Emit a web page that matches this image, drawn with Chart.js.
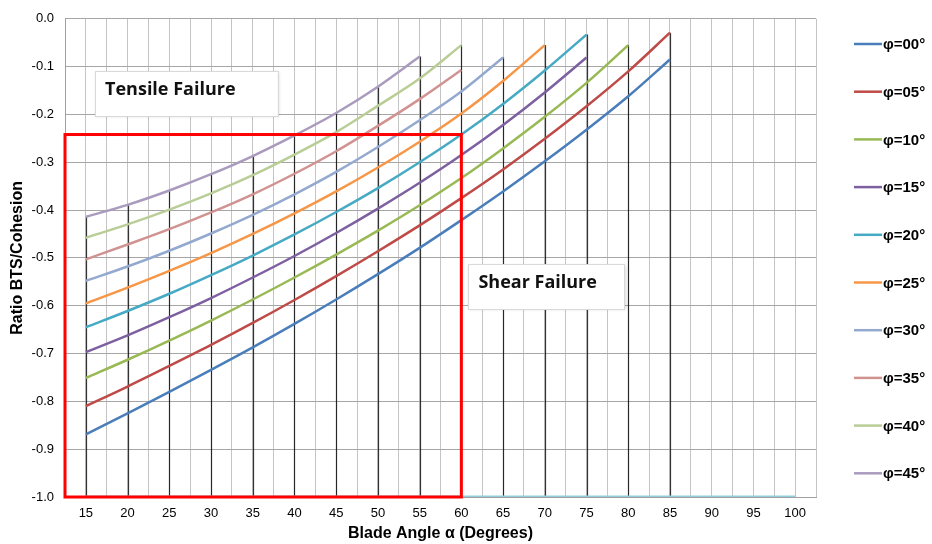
<!DOCTYPE html>
<html>
<head>
<meta charset="utf-8">
<script src="https://cdn.jsdelivr.net/npm/chart.js@4.4.1/dist/chart.umd.min.js"></script>
<style>
  html, body { margin: 0; padding: 0; background: #fff; }
</style>
</head>
<body>
<canvas id="chart" width="932" height="544"></canvas>
<script>
// blade angles where the curves are sampled (degrees)
const angles = [15, 20, 25, 30, 35, 40, 45, 50, 55, 60, 65, 70, 75, 80, 85];

const phiLabels = ['φ=00°', 'φ=05°', 'φ=10°', 'φ=15°', 'φ=20°', 'φ=25°', 'φ=30°', 'φ=35°', 'φ=40°', 'φ=45°'];

// ratio BTS / cohesion, one list per friction angle
const phi00 = [-0.869, -0.825, -0.780, -0.734, -0.687, -0.638, -0.587, -0.534, -0.479, -0.421, -0.361, -0.298, -0.232, -0.162, -0.085];
const phi05 = [-0.810, -0.769, -0.726, -0.682, -0.636, -0.588, -0.538, -0.486, -0.432, -0.375, -0.315, -0.251, -0.183, -0.110, -0.029];
const phi10 = [-0.751, -0.713, -0.673, -0.631, -0.587, -0.541, -0.493, -0.443, -0.390, -0.333, -0.271, -0.205, -0.134, -0.055];
const phi15 = [-0.697, -0.662, -0.624, -0.584, -0.541, -0.496, -0.448, -0.397, -0.343, -0.285, -0.222, -0.154, -0.081];
const phi20 = [-0.645, -0.611, -0.575, -0.536, -0.495, -0.451, -0.404, -0.354, -0.300, -0.242, -0.178, -0.108, -0.033];
const phi25 = [-0.595, -0.562, -0.527, -0.490, -0.450, -0.407, -0.361, -0.311, -0.257, -0.198, -0.130, -0.055];
const phi30 = [-0.548, -0.518, -0.485, -0.449, -0.410, -0.367, -0.320, -0.268, -0.212, -0.152, -0.081];
const phi35 = [-0.503, -0.472, -0.440, -0.405, -0.367, -0.324, -0.277, -0.224, -0.168, -0.107];
const phi40 = [-0.458, -0.430, -0.399, -0.365, -0.327, -0.284, -0.237, -0.182, -0.125, -0.055];
const phi45 = [-0.414, -0.389, -0.359, -0.325, -0.287, -0.244, -0.197, -0.142, -0.079];

// flat series lying on the -1.0 axis
const floorAngles = [15, 100];
const floorValues = [-1.0, -1.0];

// red frame: shear failure zone
const shearZone = { fromAngle: 12.5, toAngle: 60, top: -0.242, bottom: -1.0 };

const series = [phi00, phi05, phi10, phi15, phi20, phi25, phi30, phi35, phi40, phi45];
const colors = ['#4A7EBB', '#BE4B48', '#98B954', '#7D60A0', '#46AAC5', '#F79646', '#93A9CF', '#D19392', '#B9CD96', '#A99BBD'];

const FONT = '"Liberation Sans", Arial, sans-serif';

const datasets = series.map((vals, i) => ({
  label: phiLabels[i],
  data: vals.map((v, j) => ({ x: angles[j], y: v })),
  borderColor: colors[i],
  backgroundColor: colors[i],
  borderWidth: 2.5,
  pointRadius: 0,
  cubicInterpolationMode: 'monotone',
  fill: false
}));
datasets.push({
  label: '',
  data: floorAngles.map((a, j) => ({ x: a, y: floorValues[j] })),
  borderColor: '#92CDDC',
  borderWidth: 3,
  pointRadius: 0,
  fill: false
});

// text boxes (in data units)
const notes = [
  { text: 'Tensile Failure', x0: 16.1, x1: 38.0, y0: -0.110, y1: -0.204 },
  { text: 'Shear Failure', x0: 60.85, x1: 79.6, y0: -0.513, y1: -0.607 }
];

// vertical drop lines from the highest curve down to the axis
const dropLines = {
  id: 'dropLines',
  beforeDatasetsDraw(chart) {
    const { ctx, scales: { x, y } } = chart;
    ctx.save();
    ctx.strokeStyle = 'rgba(0,0,0,0.8)';
    ctx.lineWidth = 1.2;
    angles.forEach((a, j) => {
      let top = null;
      series.forEach(s => {
        if (s[j] !== undefined && (top === null || s[j] > top)) top = s[j];
      });
      const px = Math.round(x.getPixelForValue(a)) + 0.5;
      ctx.beginPath();
      ctx.moveTo(px, y.getPixelForValue(top));
      ctx.lineTo(px, y.getPixelForValue(-1));
      ctx.stroke();
    });
    ctx.restore();
  }
};

const overlays = {
  id: 'overlays',
  afterDatasetsDraw(chart) {
    const { ctx, scales: { x, y } } = chart;
    ctx.save();
    // shear zone frame
    ctx.strokeStyle = '#FF0000';
    ctx.lineWidth = 3;
    const l = x.getPixelForValue(shearZone.fromAngle), r = x.getPixelForValue(shearZone.toAngle);
    const t = y.getPixelForValue(shearZone.top), b = y.getPixelForValue(shearZone.bottom);
    ctx.strokeRect(l, t, r - l, b - t);

    // labels
    notes.forEach(n => {
      const bx = x.getPixelForValue(n.x0), bw = x.getPixelForValue(n.x1) - bx;
      const by = y.getPixelForValue(n.y0), bh = y.getPixelForValue(n.y1) - by;
      ctx.save();
      ctx.shadowColor = 'rgba(0,0,0,0.15)';
      ctx.shadowBlur = 3;
      ctx.shadowOffsetX = 1;
      ctx.shadowOffsetY = 1;
      ctx.fillStyle = '#fff';
      ctx.fillRect(bx, by, bw, bh);
      ctx.restore();
      ctx.strokeStyle = '#D9D9D9';
      ctx.lineWidth = 1;
      ctx.strokeRect(Math.round(bx) + 0.5, Math.round(by) + 0.5, Math.round(bw), Math.round(bh));
      ctx.fillStyle = '#111';
      ctx.font = 'bold 18px "Open Sans", Lato, sans-serif';
      ctx.textBaseline = 'middle';
      ctx.textAlign = 'left';
      ctx.fillText(n.text, bx + 10, by + bh / 2 - 4);
    });
    ctx.restore();
  }
};

const sideLegend = {
  id: 'sideLegend',
  afterDraw(chart) {
    const ctx = chart.ctx;
    ctx.save();
    ctx.font = 'bold 15px ' + FONT;
    ctx.textBaseline = 'middle';
    ctx.textAlign = 'left';
    chart.data.datasets.forEach((ds, i) => {
      if (!ds.label) return;
      const ly = 44 + i * 47.7;
      ctx.strokeStyle = ds.borderColor;
      ctx.lineWidth = 2.5;
      ctx.beginPath();
      ctx.moveTo(854, ly);
      ctx.lineTo(882, ly);
      ctx.stroke();
      ctx.fillStyle = '#000';
      ctx.fillText(ds.label, 883, ly + 1);
    });
    ctx.restore();
  }
};

new Chart(document.getElementById('chart'), {
  type: 'line',
  data: { datasets },
  plugins: [dropLines, overlays, sideLegend],
  options: {
    responsive: false,
    animation: false,
    layout: { padding: { top: 17, right: 116, left: 0, bottom: 0 } },
    plugins: {
      legend: { display: false },
      tooltip: { enabled: false }
    },
    scales: {
      x: {
        type: 'linear',
        min: 12.5,
        max: 102.5,
        afterFit(s) { s.height = 47; },
        ticks: {
          stepSize: 2.5,
          autoSkip: false,
          maxRotation: 0,
          padding: 9,
          color: '#000',
          font: { family: FONT, size: 13 },
          callback: v => (v % 5 === 0 ? String(v) : '')
        },
        grid: { color: '#C4C4C4', lineWidth: 1, drawTicks: false },
        border: { color: '#A0A0A0' },
        title: {
          display: true,
          text: 'Blade Angle α (Degrees)',
          color: '#000',
          font: { family: FONT, size: 16, weight: 'bold' },
          padding: { top: 0, bottom: 1 }
        }
      },
      y: {
        min: -1,
        max: 0,
        afterFit(s) { s.width = 65; },
        ticks: {
          stepSize: 0.1,
          padding: 11,
          color: '#000',
          font: { family: FONT, size: 13 },
          callback: v => v.toFixed(1)
        },
        grid: { color: '#A6A6A6', lineWidth: 1, drawTicks: false },
        border: { color: '#A0A0A0' },
        title: {
          display: true,
          text: 'Ratio BTS/Cohesion',
          color: '#000',
          font: { family: FONT, size: 16, weight: 'bold' },
          padding: { top: 8, bottom: 0 }
        }
      }
    }
  }
});
</script>
</body>
</html>
